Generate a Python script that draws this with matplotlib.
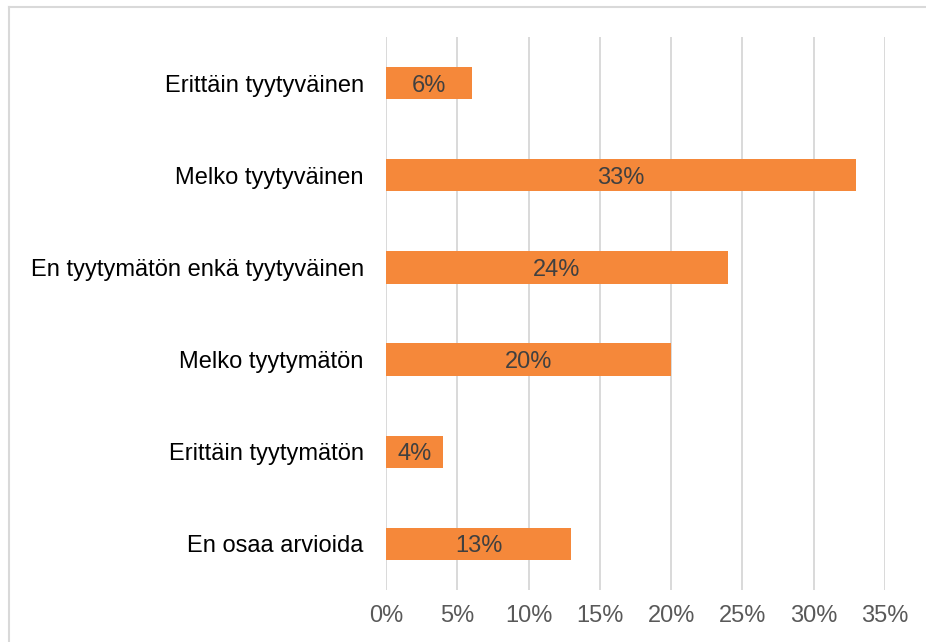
import matplotlib
matplotlib.use("Agg")
import matplotlib.pyplot as plt
from matplotlib.lines import Line2D
from matplotlib.ticker import FuncFormatter

# vastaukset ylhaalta alas
kategoriat = ["Erittäin tyytyväinen", "Melko tyytyväinen",
              "En tyytymätön enkä tyytyväinen", "Melko tyytymätön",
              "Erittäin tyytymätön", "En osaa arvioida"]
osuudet = [6, 33, 24, 20, 4, 13]
xtiks = [0, 5, 10, 15, 20, 25, 30, 35]

plt.rcParams['font.family'] = ['Liberation Sans', 'DejaVu Sans']

fig = plt.figure(figsize=(9.26, 6.42), dpi=100)
ax = fig.add_axes([0.4168, 0.081, 0.5389, 0.8614])

y = list(range(len(kategoriat)))[::-1]
bars = ax.barh(y, osuudet, height=0.35, color="#F5883A", zorder=2)
for b, v in zip(bars, osuudet):
    ax.text(v / 2, b.get_y() + b.get_height() / 2, str(v) + "%",
            ha="center", va="center_baseline", fontsize=17, color="#404040", zorder=3)

ax.set_yticks(y)
ax.set_yticklabels(kategoriat, fontsize=17, color="#000000")
ax.set_xticks(xtiks)
ax.xaxis.set_major_formatter(FuncFormatter(lambda v, p: "%d%%" % v))
ax.tick_params(axis="x", labelsize=17, labelcolor="#595959", length=0, pad=11)
ax.tick_params(axis="y", length=0, pad=16)
ax.set_xlim(0, 35)
ax.set_ylim(-0.5, 5.5)
ax.grid(axis="x", color="#D9D9D9", linewidth=1.4, zorder=0)
for s in ax.spines.values():
    s.set_visible(False)

# kehys vasemmalla ja ylhaalla
fig.add_artist(Line2D([9 / 926, 9 / 926], [0, 1 - 7 / 642], color="#D9D9D9", linewidth=1.5))
fig.add_artist(Line2D([9 / 926, 1], [1 - 7 / 642, 1 - 7 / 642], color="#D9D9D9", linewidth=1.5))

fig.savefig("out.png", dpi=100)
